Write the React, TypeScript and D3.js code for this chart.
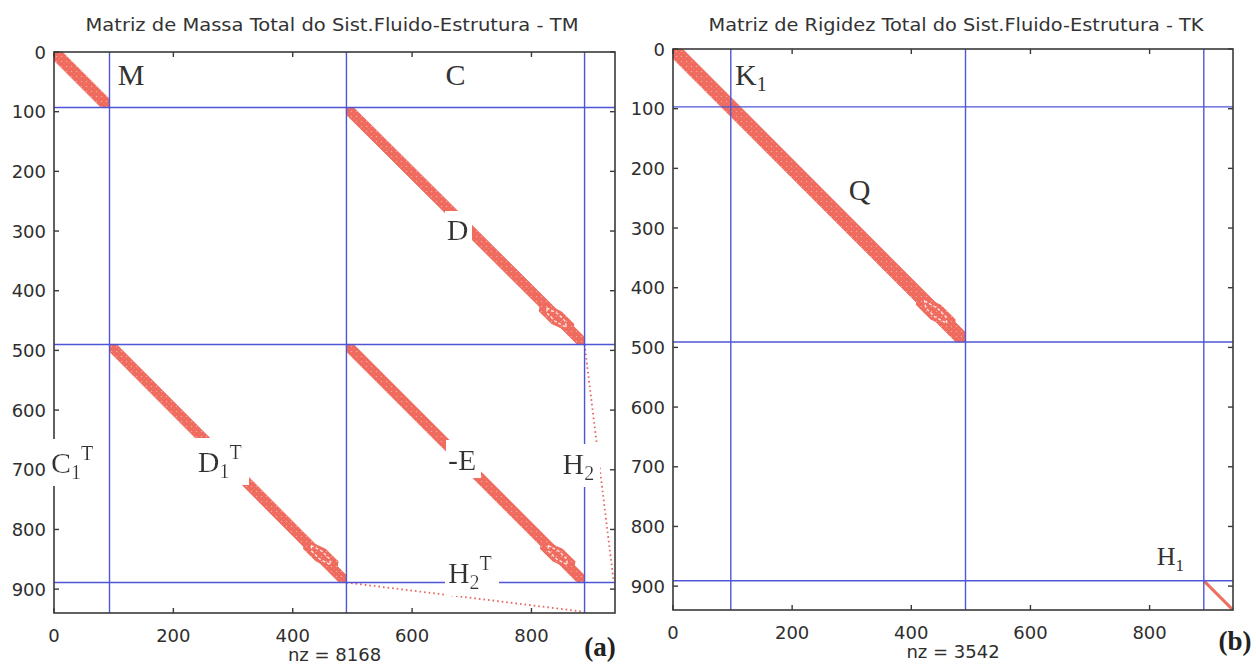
import React from "react";
import * as d3 from "d3";

const W = 1256;
const H = 667;
const N = 940; // axis limit (matrix order)

// partition boundaries of the block matrices
const partitionTM = [93, 490, 889];
const partitionTK = [97, 491, 891];

const xTicks = [0, 200, 400, 600, 800];
const yTicks = [0, 100, 200, 300, 400, 500, 600, 700, 800, 900];

const titles = [
  "Matriz de Massa Total do Sist.Fluido-Estrutura - TM",
  "Matriz de Rigidez Total do Sist.Fluido-Estrutura - TK",
];
const nzLabels = ["nz = 8168", "nz = 3542"];
const panelTags = ["(a)", "(b)"];

// banded non-zero regions: [row0, col0, row1, col1, halfBandwidth]
const bandsTM: number[][] = [
  [0, 0, 93, 93, 14],
  [93, 490, 490, 889, 12],
  [490, 93, 889, 490, 12],
  [490, 490, 889, 889, 12],
];
const bulgesTM: number[][] = [
  [418, 815, 472, 869, 19],
  [816, 420, 870, 474, 19],
  [816, 817, 870, 871, 19],
];
// sparse coupling rows/cols (dotted): [row0, col0, row1, col1]
const dotsTM: number[][] = [
  [490, 889, 889, 938],
  [889, 490, 938, 889],
];

const bandsTK: number[][] = [
  [0, 0, 491, 491, 16],
  [891, 891, 940, 940, 2.8],
];
const bulgesTK: number[][] = [[410, 410, 472, 472, 21]];
const dotsTK: number[][] = [];

// block labels: [text, sub, sup, col, row, whiteBackground(1/0), size]
const labelsTM: (string | number)[][] = [
  ["M", "", "", 107, 55, 0, 30],
  ["C", "", "", 656, 55, 0, 30],
  ["D", "", "", 658, 315, 1, 30],
  ["C", "1", "T", -5, 705, 1, 30],
  ["D", "1", "T", 241, 704, 1, 30],
  ["-E", "", "", 660, 700, 1, 30],
  ["H", "2", "", 852, 707, 1, 30],
  ["H", "2", "T", 660, 889, 1, 30],
];
const labelsTK: (string | number)[][] = [
  ["K", "1", "", 104, 60, 0, 30],
  ["Q", "", "", 295, 253, 0, 30],
  ["H", "1", "", 812, 864, 0, 26],
];

const SANS = "'DejaVu Sans', 'Liberation Sans', sans-serif";
const SERIF = "'Liberation Serif', 'Times New Roman', serif";
const RED = "#ef6a5d";
const BLUE = "#4f56d6";
const AXIS = "#3a3a3a";

type PanelProps = {
  left: number;
  top: number;
  width: number;
  height: number;
  partition: number[];
  bands: number[][];
  bulges: number[][];
  dots: number[][];
  labels: (string | number)[][];
  title: string;
  titleWidth: number;
  titleX: number;
  nz: string;
  tag: string;
  tagX: number;
  tagY: number;
};

function Panel(p: PanelProps) {
  const x = d3.scaleLinear().domain([0, N]).range([p.left, p.left + p.width]);
  const y = d3.scaleLinear().domain([0, N]).range([p.top, p.top + p.height]);
  const line = d3.line();
  const right = p.left + p.width;
  const bottom = p.top + p.height;

  const toPx = (pts: [number, number][]) =>
    line(pts.map(([c, r]) => [x(c), y(r)] as [number, number])) + "Z";

  const bandPath = (b: number[]) => {
    const [r0, c0, r1, c1, h] = b;
    return toPx([
      [c0, r0],
      [c0 + h, r0],
      [c1, r1 - h],
      [c1, r1],
      [c1 - h, r1],
      [c0, r0 + h],
    ]);
  };
  const bulgePath = (b: number[], k: number, t0: number, t1: number, ta: number, tb: number) => {
    const [r0, c0, r1, c1, h] = b;
    const at = (t: number) => [c0 + (c1 - c0) * t, r0 + (r1 - r0) * t];
    const s = at(t0);
    const a = at(ta);
    const bb = at(tb);
    const e = at(t1);
    return toPx([
      [s[0], s[1]],
      [a[0] + h * k, a[1]],
      [bb[0] + h * k, bb[1]],
      [e[0], e[1]],
      [bb[0] - h * k, bb[1]],
      [a[0] - h * k, a[1]],
    ]);
  };

  return (
    <g>
      <text
        x={p.titleX}
        y={31}
        textAnchor="middle"
        fontFamily={SANS}
        fontSize={18}
        fill="#333"
        textLength={p.titleWidth}
        lengthAdjust="spacingAndGlyphs"
      >
        {p.title}
      </text>

      {/* non-zero pattern */}
      {p.bands.map((b, i) => (
        <g key={"b" + i}>
          <path d={bandPath(b)} fill={RED} stroke={RED} strokeWidth={0.8} />
          <path d={bandPath(b)} fill="url(#speck)" />
        </g>
      ))}
      {p.bulges.map((b, i) => (
        <g key={"u" + i}>
          <path d={bulgePath(b, 1, 0, 1, 0.3, 0.7)} fill={RED} />
          <path
            d={bulgePath(b, 0.45, 0.2, 0.8, 0.38, 0.62)}
            fill="none"
            stroke="#fde2de"
            strokeWidth={1.4}
            strokeDasharray="3 2"
          />
          <path d={bulgePath(b, 1, 0, 1, 0.3, 0.7)} fill="url(#speck)" />
        </g>
      ))}
      {p.dots.map((d, i) => (
        <path
          key={"d" + i}
          d={
            line([
              [x(d[1]), y(d[0])],
              [x(d[3]), y(d[2])],
            ]) || ""
          }
          stroke="#e5675e"
          strokeWidth={1.8}
          strokeDasharray="1.6 3"
          fill="none"
        />
      ))}

      {/* partition lines */}
      {p.partition.map((v, i) => (
        <g key={"p" + i}>
          <line x1={x(v)} x2={x(v)} y1={p.top} y2={bottom} stroke={BLUE} strokeWidth={1.4} />
          <line x1={p.left} x2={right} y1={y(v)} y2={y(v)} stroke={BLUE} strokeWidth={1.4} />
        </g>
      ))}

      {/* axes box and ticks */}
      <rect x={p.left} y={p.top} width={p.width} height={p.height} fill="none" stroke={AXIS} strokeWidth={1.6} />
      {xTicks.map((t) => (
        <g key={"xt" + t}>
          <line x1={x(t)} x2={x(t)} y1={bottom} y2={bottom - 5} stroke={AXIS} strokeWidth={1.4} />
          <line x1={x(t)} x2={x(t)} y1={p.top} y2={p.top + 5} stroke={AXIS} strokeWidth={1.4} />
          <text x={x(t)} y={bottom + 29} textAnchor="middle" fontFamily={SANS} fontSize={18} fill="#2e2e2e">
            {t}
          </text>
        </g>
      ))}
      {yTicks.map((t) => (
        <g key={"yt" + t}>
          <line x1={p.left} x2={p.left + 5} y1={y(t)} y2={y(t)} stroke={AXIS} strokeWidth={1.4} />
          <line x1={right} x2={right - 5} y1={y(t)} y2={y(t)} stroke={AXIS} strokeWidth={1.4} />
          <text
            x={p.left - 8}
            y={y(t)}
            textAnchor="end"
            dominantBaseline="central"
            fontFamily={SANS}
            fontSize={18}
            fill="#2e2e2e"
          >
            {t}
          </text>
        </g>
      ))}

      <text
        x={(p.left + right) / 2}
        y={bottom + 48}
        textAnchor="middle"
        fontFamily={SANS}
        fontSize={18}
        fill="#2e2e2e"
      >
        {p.nz}
      </text>
      <text x={p.tagX} y={p.tagY} textAnchor="middle" fontFamily={SERIF} fontWeight="bold" fontSize={27} fill="#222">
        {p.tag}
      </text>

      {/* block labels */}
      {p.labels.map((l, i) => {
        const [txt, sub, sup, c, r, bg, fs] = l as [string, string, string, number, number, number, number];
        const small = Math.round(fs * 0.66);
        return (
          <text
            key={"l" + i}
            x={x(c)}
            y={y(r)}
            fontFamily={SERIF}
            fontSize={fs}
            fill="#333"
            filter={bg ? "url(#whitebg)" : undefined}
          >
            {txt}
            {sub ? (
              <tspan dy={6} fontSize={small}>
                {sub}
              </tspan>
            ) : null}
            {sup ? (
              <tspan dy={sub ? -19 : -13} fontSize={small}>
                {sup}
              </tspan>
            ) : null}
          </text>
        );
      })}
    </g>
  );
}

export default function App() {
  return (
    <div style={{ position: "absolute", left: 0, top: 0, width: W, height: H, background: "#fff" }}>
      <svg width={W} height={H} viewBox={`0 0 ${W} ${H}`} style={{ display: "block" }}>
        <defs>
          <pattern id="speck" width={5} height={5} patternUnits="userSpaceOnUse">
            <circle cx={1.5} cy={1.5} r={0.8} fill="#fff" opacity={0.4} />
            <circle cx={4} cy={3.8} r={0.5} fill="#fff" opacity={0.25} />
          </pattern>
          <filter id="whitebg" x="-0.06" y="-0.06" width="1.22" height="1.12">
            <feFlood floodColor="#ffffff" />
            <feMerge>
              <feMergeNode />
              <feMergeNode in="SourceGraphic" />
            </feMerge>
          </filter>
        </defs>
        <rect x={0} y={0} width={W} height={H} fill="#fff" />
        <Panel
          left={54}
          top={52}
          width={561}
          height={561}
          partition={partitionTM}
          bands={bandsTM}
          bulges={bulgesTM}
          dots={dotsTM}
          labels={labelsTM}
          title={titles[0]}
          titleWidth={493}
          titleX={332}
          nz={nzLabels[0]}
          tag={panelTags[0]}
          tagX={600}
          tagY={656}
        />
        <Panel
          left={673}
          top={49}
          width={560}
          height={561}
          partition={partitionTK}
          bands={bandsTK}
          bulges={bulgesTK}
          dots={dotsTK}
          labels={labelsTK}
          title={titles[1]}
          titleWidth={495}
          titleX={956}
          nz={nzLabels[1]}
          tag={panelTags[1]}
          tagX={1235}
          tagY={650}
        />
      </svg>
    </div>
  );
}
